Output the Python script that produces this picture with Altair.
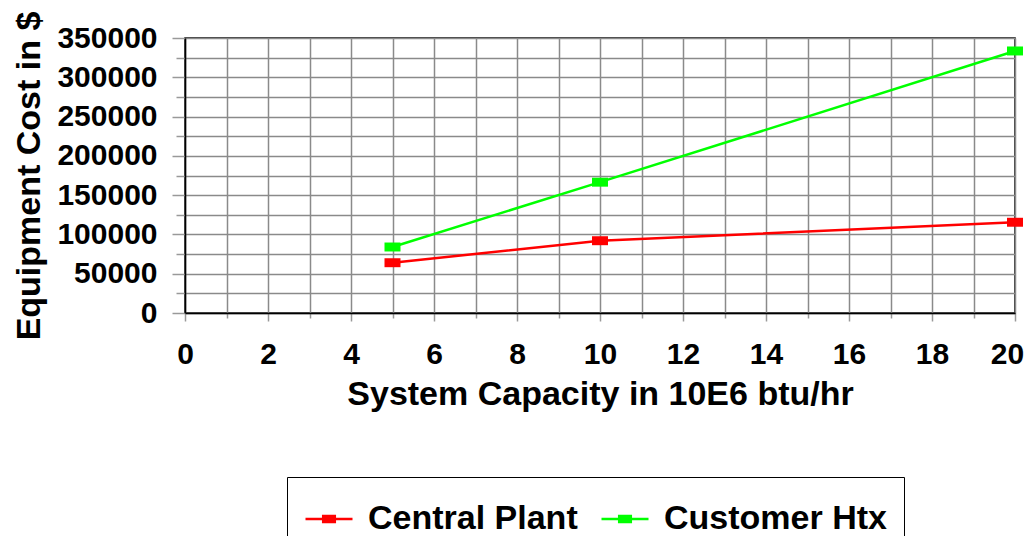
import altair as alt
import pandas as pd

series_names = ["Central Plant", "Customer Htx"]
series_colors = ["#ff0000", "#00ff00"]
capacity = [5, 10, 20]
central_plant = [64000, 92000, 115500]
customer_htx = [84000, 166500, 333500]

x_ticks = list(range(0, 21))
y_ticks = list(range(0, 350001, 25000))

rows = []
for name, vals in zip(series_names, [central_plant, customer_htx]):
    for c, v in zip(capacity, vals):
        rows.append({"series": name, "capacity": c, "cost": v})
df = pd.DataFrame(rows)

FONT = "Liberation Sans"
color_scale = alt.Scale(domain=series_names, range=series_colors)

x_enc = alt.X(
    "capacity:Q",
    scale=alt.Scale(domain=[0, 20], nice=False, zero=True),
    axis=alt.Axis(
        title="System Capacity in 10E6 btu/hr",
        values=x_ticks,
        labelExpr="datum.value % 2 === 0 ? datum.label : ''",
        labelOverlap=False,
        labelFlush=False,
        labelOffset={"condition": {"test": "datum.value === 20", "value": -8}, "value": 0},
        tickSize={"condition": {"test": "datum.value % 2 === 0", "value": 8}, "value": 5},
        labelPadding=18,
        titlePadding=8,
    ),
)
y_enc = alt.Y(
    "cost:Q",
    scale=alt.Scale(domain=[0, 350000], nice=False),
    axis=alt.Axis(
        title="Equipment Cost in $",
        values=y_ticks,
        format="d",
        labelExpr="datum.value % 50000 === 0 ? datum.label : ''",
        labelOverlap=False,
        labelFlush=False,
        tickSize={"condition": {"test": "datum.value % 50000 === 0", "value": 13}, "value": 9},
        labelPadding=15,
        titlePadding=10,
    ),
)

base = alt.Chart(df).encode(x=x_enc, y=y_enc)

legend_path = "M-1,0H1M-0.3,-0.13H0.3M-0.3,-0.045H0.3M-0.3,0.045H0.3M-0.3,0.13H0.3"

lines = base.mark_line(strokeWidth=2.5).encode(
    stroke=alt.Stroke(
        "series:N",
        scale=color_scale,
        sort=series_names,
        legend=alt.Legend(
            title=None,
            orient="none",
            legendX=102,
            legendY=439,
            direction="horizontal",
            strokeColor="black",
            padding=17,
            symbolType=legend_path,
            symbolSize=2209,
            symbolStrokeWidth=2.5,
            symbolFillColor="transparent",
            labelFont=FONT,
            labelFontSize=34,
            labelFontWeight="bold",
            labelColor="black",
            labelLimit=500,
            labelOffset=14,
            columnPadding=18,
        ),
    )
)

points = base.mark_point(
    filled=True, shape="M-1,-0.56H1V0.56H-1Z", size=256, opacity=1
).encode(color=alt.Color("series:N", scale=color_scale, legend=None))

chart = (
    alt.layer(lines, points)
    .properties(
        width=830,
        height=275,
        autosize=alt.AutoSizeParams(type="none"),
        padding={"left": 177, "top": 30, "right": 10, "bottom": 223},
    )
    .configure_view(stroke="black", strokeWidth=1.5)
    .configure_axis(
        labelFont=FONT,
        labelFontSize=30,
        labelFontWeight="bold",
        labelColor="black",
        titleFont=FONT,
        titleFontSize=34,
        titleFontWeight="bold",
        titleColor="black",
        gridColor="#8a8a8a",
        gridWidth=1.5,
        gridOpacity=1,
        tickColor="#999999",
        tickWidth=1.5,
        domainColor="black",
        domainWidth=1.5,
    )
)

chart.save("out.html", embed_options={"renderer": "svg", "actions": False})
